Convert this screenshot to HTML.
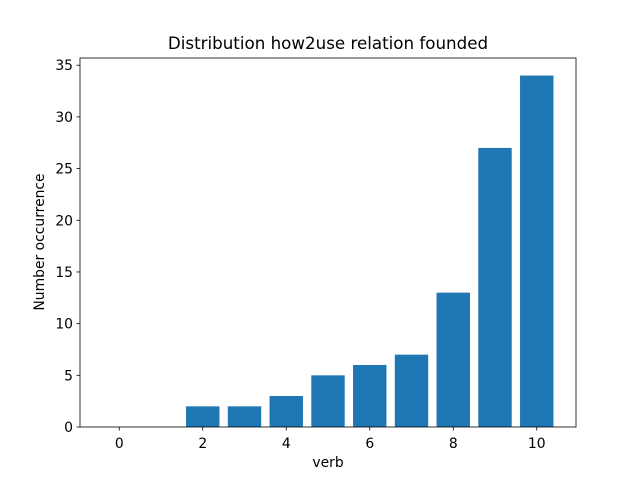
<!DOCTYPE html>
<html><head><meta charset="utf-8"><style>
body{margin:0;background:#fff;}
svg text{font-family:"DejaVu Sans","Liberation Sans",sans-serif;fill:#000;}
</style></head><body>
<svg id="chart" width="640" height="480" xmlns="http://www.w3.org/2000/svg">
<rect width="640" height="480" fill="#fff"/>
<text x="328" y="49" font-size="16.7" text-anchor="middle">Distribution how2use relation founded</text>
<g id="bars"></g>
<g id="axes"></g>
<text x="328" y="467" font-size="13.9" text-anchor="middle">verb</text>
<text transform="translate(44,242) rotate(-90)" font-size="13.9" text-anchor="middle">Number occurrence</text>
</svg>
<script>
const categories=[0,1,2,3,4,5,6,7,8,9,10];
const values=[0,0,2,2,3,5,6,7,13,27,34];
const xTicks=[0,2,4,6,8,10];
const yTicks=[0,5,10,15,20,25,30,35];
const L=80,R=576,T=58,B=427;
const xmin=-0.94,xmax=10.94,ymin=0,ymax=35.7;
const sx=v=>L+(v-xmin)/(xmax-xmin)*(R-L);
const sy=v=>B-(v-ymin)/(ymax-ymin)*(B-T);
const NS="http://www.w3.org/2000/svg";
const bars=document.getElementById('bars'),axes=document.getElementById('axes');
function mk(tag,attrs,parent){const e=document.createElementNS(NS,tag);for(const k in attrs)e.setAttribute(k,attrs[k]);parent.appendChild(e);return e;}
categories.forEach((c,i)=>{
  const x0=sx(c-0.4),x1=sx(c+0.4),y=sy(values[i]);
  const r=mk('rect',{x:x0,y:y,width:x1-x0,height:B-y,fill:'#1f77b4'},bars);
  
  
});
const frame=mk('rect',{x:L,y:T,width:R-L,height:B-T,fill:'none',stroke:'#000','stroke-width':0.8},axes);


xTicks.forEach(t=>{
  const x=sx(t);
  mk('line',{x1:x,x2:x,y1:B,y2:B+3.5,stroke:'#000','stroke-width':0.8},axes);
  const tx=mk('text',{x:x,y:B+21,'font-size':13.9,'text-anchor':'middle'},axes);
  tx.textContent=t;
  
  
});
yTicks.forEach(t=>{
  const y=sy(t);
  mk('line',{x1:L-3.5,x2:L,y1:y,y2:y,stroke:'#000','stroke-width':0.8},axes);
  const tx=mk('text',{x:L-7,y:y+5,'font-size':13.9,'text-anchor':'end'},axes);
  tx.textContent=t;
  
  
});
</script>
</body></html>
